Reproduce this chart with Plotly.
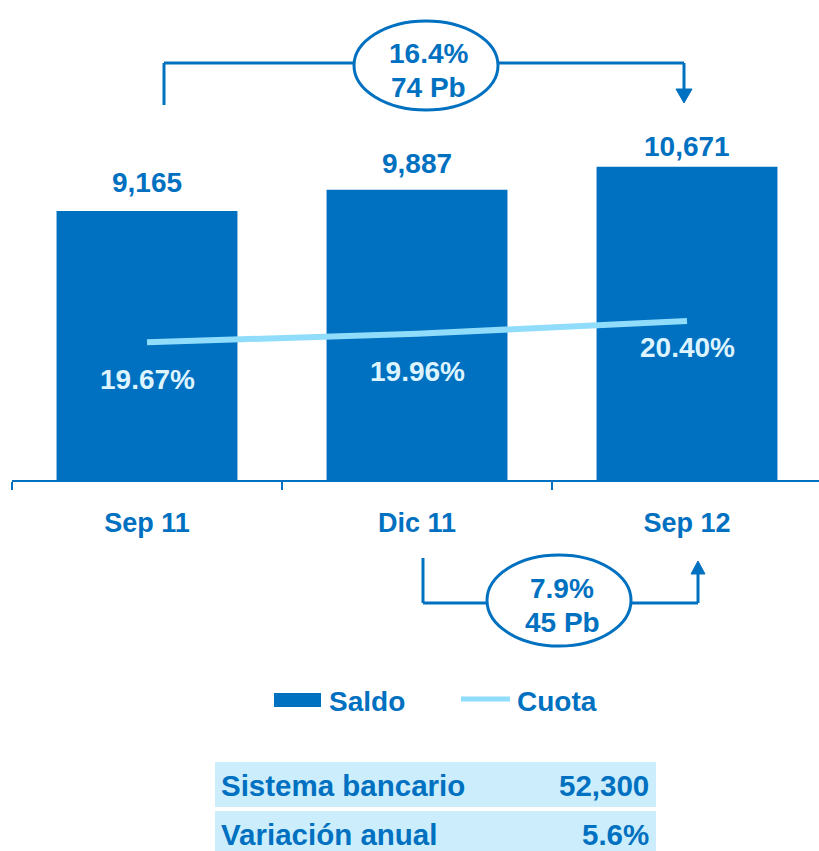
import plotly.graph_objects as go

# ---- data -------------------------------------------------------------
categories = ["Sep 11", "Dic 11", "Sep 12"]
saldo = [9165, 9887, 10671]
cuota = [19.67, 19.96, 20.40]
saldo_labels = ["9,165", "9,887", "10,671"]
cuota_labels = ["19.67%", "19.96%", "20.40%"]
growth_total = ["16.4%", "74 Pb"]      # Sep 11 -> Sep 12
growth_recent = ["7.9%", "45 Pb"]      # Dic 11 -> Sep 12
table_rows = ["Sistema bancario", "Variación anual"]
table_values = ["52,300", "5.6%"]

# ---- styling ----------------------------------------------------------
W, H = 819, 851
BLUE = "#0070C0"
LIGHT = "#8FDDFB"
PALE_TEXT = "#DDF4FF"
TABLE_BG = "#CCEEFC"
FONT = "Liberation Sans"

saldo_label_shift = [28, 26, 20]
cuota_label_shift = [-37, -38, -27]


def px(x):
    return x / W


def py(y):
    return 1 - y / H


fig = go.Figure()

fig.add_trace(go.Bar(
    x=categories, y=saldo, name="Saldo",
    marker=dict(color=BLUE, line=dict(width=0)),
    showlegend=False,
))
fig.add_trace(go.Scatter(
    x=categories, y=cuota, name="Cuota", yaxis="y2",
    mode="lines", line=dict(color=LIGHT, width=6),
    showlegend=False,
))

annotations = []
for c, v, t, s in zip(categories, saldo, saldo_labels, saldo_label_shift):
    annotations.append(dict(
        x=c, y=v, xref="x", yref="y", text=t, showarrow=False,
        yanchor="middle", yshift=s,
        font=dict(family=FONT, size=28, color=BLUE, weight="bold"),
    ))
for c, v, t, s in zip(categories, cuota, cuota_labels, cuota_label_shift):
    annotations.append(dict(
        x=c, y=v, xref="x", yref="y2", text=t, showarrow=False,
        yanchor="middle", yshift=s,
        font=dict(family=FONT, size=28, color=PALE_TEXT, weight="bold"),
    ))

shapes = []
LW = 3


def seg(x0, y0, x1, y1, width=LW, color=BLUE):
    shapes.append(dict(type="line", xref="paper", yref="paper",
                       x0=px(x0), y0=py(y0), x1=px(x1), y1=py(y1),
                       line=dict(color=color, width=width)))


def tri(points):
    path = "M " + " L ".join(f"{px(a)},{py(b)}" for a, b in points) + " Z"
    shapes.append(dict(type="path", xref="paper", yref="paper", path=path,
                       fillcolor=BLUE, line=dict(color=BLUE, width=1)))


def ellipse(x0, y0, x1, y1):
    shapes.append(dict(type="circle", xref="paper", yref="paper",
                       x0=px(x0), y0=py(y1), x1=px(x1), y1=py(y0),
                       fillcolor="white", line=dict(color=BLUE, width=LW)))


def label(x, y, text, size=28, color=BLUE, anchor="center"):
    annotations.append(dict(
        x=px(x), y=py(y), xref="paper", yref="paper", text=text,
        showarrow=False, xanchor=anchor, yanchor="middle",
        font=dict(family=FONT, size=size, color=color, weight="bold"),
    ))


# top bracket: Sep 11 -> Sep 12
seg(164, 105, 164, 63)
seg(164, 63, 684, 63)
seg(684, 63, 684, 90)
tri([(676, 89), (692, 89), (684, 103)])
ellipse(354, 21, 498, 110)
label(428, 53, growth_total[0])
label(428, 88, growth_total[1])

# bottom bracket: Dic 11 -> Sep 12
seg(423, 558, 423, 603)
seg(423, 603, 698, 603)
seg(698, 603, 698, 572)
tri([(691, 574), (705, 574), (698, 561)])
ellipse(487, 555, 631, 646)
label(562, 588, growth_recent[0])
label(562, 622, growth_recent[1])

# legend
shapes.append(dict(type="rect", xref="paper", yref="paper",
                   x0=px(274), y0=py(707), x1=px(321), y1=py(693),
                   fillcolor=BLUE, line=dict(width=0)))
label(327, 701, "Saldo", anchor="left")
seg(461, 699, 510, 699, width=5, color=LIGHT)
label(515, 701, "Cuota", anchor="left")

# summary table
row_tops = [762, 811]
for top, name, val in zip(row_tops, table_rows, table_values):
    shapes.append(dict(type="rect", xref="paper", yref="paper",
                       x0=px(215), y0=py(top + 45), x1=px(656), y1=py(top),
                       fillcolor=TABLE_BG, line=dict(width=0), layer="below"))
    label(219, top + 23, name, size=29.5, anchor="left")
    label(651, top + 23, val, size=29.5, anchor="right")

fig.update_layout(
    width=W, height=H,
    margin=dict(l=0, r=0, t=0, b=0),
    paper_bgcolor="white", plot_bgcolor="white",
    bargap=0.33,
    showlegend=False,
    xaxis=dict(
        domain=[px(12), 1], range=[-0.5, -0.5 + 807 / 270],
        showline=True, linecolor=BLUE, linewidth=2,
        ticks="outside", tickson="boundaries", ticklen=8,
        tickcolor=BLUE, tickwidth=1.5,
        ticklabelstandoff=18,
        tickfont=dict(family=FONT, size=27, color=BLUE, weight="bold"),
        showgrid=False, zeroline=False, automargin=False,
    ),
    yaxis=dict(
        domain=[1 - 480 / H, 1], range=[0, 16349],
        visible=False, showgrid=False, zeroline=False,
    ),
    yaxis2=dict(
        domain=[1 - 480 / H, 1], range=[14.954, 31.39],
        overlaying="y", visible=False, showgrid=False, zeroline=False,
    ),
    shapes=shapes,
    annotations=annotations,
)

fig.write_html("out.html")
